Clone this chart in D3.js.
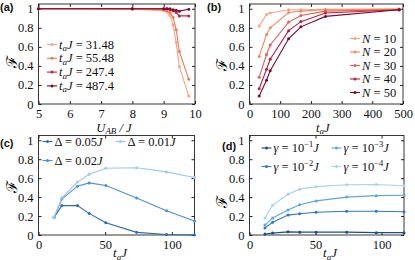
<!DOCTYPE html>
<html>
<head>
<meta charset="utf-8">
<script src="https://cdn.jsdelivr.net/npm/d3@7"></script>
<style>
body { margin: 0; background: #fff; }
svg { display: block; }
.tick text { font-family: "Liberation Serif", serif; font-size: 12.5px; fill: #111; }
.tick line { stroke: #222; }
.lab { font-family: "Liberation Serif", serif; font-style: italic; fill: #111; }
.leg { font-family: "Liberation Serif", serif; font-size: 12.5px; fill: #111; }
.plabel { font-family: "Liberation Sans", Arial, sans-serif; font-weight: bold; font-size: 11px; fill: #111; }
</style>
</head>
<body>
<svg width="415" height="260"></svg>
<script>
// ---- data ----
// (a) fidelity vs U_AB/J
var uAB = [5, 8, 9, 9.1, 9.2, 9.3, 9.4, 9.5, 9.8];
var taLabels = ["31.48", "55.48", "247.4", "487.4"];
var fA = [
	[1, 0.995, 0.98, 0.965, 0.93, 0.83, 0.645, 0.39, 0.085],
	[1, 1, 0.99, 0.98, 0.96, 0.91, 0.78, 0.55, 0.26],
	[1, 1, 1, 1, 0.99, 0.98, 0.96, 0.925, 0.925],
	[1, 1, 1, 1, 1, 0.99, 0.985, 0.975, 0.995]
];
var colA = ["#f8a57e", "#ee7b5f", "#c8203f", "#7d0b2e"];

// (b) fidelity vs t_a J for several N
var taB = [31.48, 55.48, 67.4, 127.4, 167.4, 247.4, 487.4];
var nLabels = ["10", "20", "30", "40", "50"];
var fB = [
	[0.82, 0.94, 0.955, 0.99, 0.99, 0.995, 1],
	[0.50, 0.73, 0.80, 0.96, 0.975, 0.99, 0.995],
	[0.28, 0.52, 0.62, 0.86, 0.93, 0.975, 0.99],
	[0.16, 0.365, 0.47, 0.77, 0.865, 0.955, 0.99],
	[0.085, 0.25, 0.35, 0.685, 0.81, 0.92, 0.99]
];
var colB = ["#f8a57e", "#f38a62", "#e0605a", "#bf1f40", "#7d0b2e"];

// (c) fidelity vs t_a J for several Delta
var taC = [11.7, 17.5, 29.2, 38, 50.5, 73.6, 96, 117];
var deltaLabels = ["0.05", "0.02", "0.01"];
var fC = [
	[0.186, 0.31, 0.31, 0.228, 0.13, 0.028, 0.005, 0],
	[0.186, 0.38, 0.515, 0.55, 0.523, 0.39, 0.256, 0.147],
	[0.186, 0.393, 0.558, 0.64, 0.705, 0.71, 0.666, 0.607]
];
var colC = ["#2a6db5", "#4a92d2", "#9ccaec"];

// (d) fidelity vs t_a J for several gamma
var gammaExp = ["-1", "-2", "-3", "-4"];
var fD = [
	[0.01, 0.02, 0.033, 0.03, 0.03, 0.03, 0.025, 0.025],
	[0.075, 0.135, 0.21, 0.225, 0.24, 0.25, 0.25, 0.245],
	[0.105, 0.18, 0.265, 0.32, 0.36, 0.40, 0.415, 0.42],
	[0.18, 0.315, 0.43, 0.484, 0.51, 0.53, 0.533, 0.52]
];
var colD = ["#1c4d8f", "#2f78c2", "#5ea5dc", "#a8d2f0"];

var yTicks = [0, 0.2, 0.4, 0.6, 0.8, 1];

var svg = d3.select("svg");

// Draw one panel with box, inward ticks on all four sides
function panel(o) {
	var g = svg.append("g");
	var x = d3.scaleLinear().domain(o.xdom).range([o.left, o.right]);
	var y = d3.scaleLinear().domain([0, 1.05]).range([o.bottom, o.top]);
	var fmt = (d) => d3.format("~g")(d);

	g.append("g").attr("transform", "translate(0," + o.bottom + ")")
		.call(d3.axisBottom(x).tickValues(o.xticks).tickSize(-3).tickPadding(5).tickFormat(fmt))
		.call((s) => s.select(".domain").remove());
	g.append("g").attr("transform", "translate(0," + o.top + ")")
		.call(d3.axisTop(x).tickValues(o.xticks).tickSize(-3).tickFormat(""))
		.call((s) => s.select(".domain").remove());
	g.append("g").attr("transform", "translate(" + o.left + ",0)")
		.call(d3.axisLeft(y).tickValues(yTicks).tickSize(-3).tickPadding(5).tickFormat(fmt))
		.call((s) => s.select(".domain").remove());
	g.append("g").attr("transform", "translate(" + o.right + ",0)")
		.call(d3.axisRight(y).tickValues(yTicks).tickSize(-3).tickFormat(""))
		.call((s) => s.select(".domain").remove());

	g.append("rect")
		.attr("x", o.left).attr("y", o.top)
		.attr("width", o.right - o.left).attr("height", o.bottom - o.top)
		.attr("fill", "none").attr("stroke", "#222").attr("stroke-width", 0.9);

	var line = d3.line().x((d) => x(d[0])).y((d) => y(d[1]));
	o.series.forEach((vals, i) => {
		var pts = o.xs.map((xv, j) => [xv, vals[j]]);
		g.append("path").datum(pts)
			.attr("d", line)
			.attr("fill", "none")
			.attr("stroke", o.colors[i])
			.attr("stroke-width", 1.1);
		g.selectAll(null).data(pts).enter().append("circle")
			.attr("cx", (d) => x(d[0])).attr("cy", (d) => y(d[1]))
			.attr("r", 1.5).attr("fill", o.colors[i]);
	});

	// y label (script F)
	g.append("text")
		.attr("transform", "translate(" + o.ylab[0] + "," + o.ylab[1] + ") rotate(-90)")
		.attr("text-anchor", "middle")
		.style("font-family", "'DejaVu Serif', serif")
		.style("font-size", "15px")
		.text("\u2131");

	// panel label
	g.append("text").attr("class", "plabel")
		.attr("x", o.plab[0]).attr("y", o.plab[1]).text(o.name);

	return g;
}

function legendItem(g, px, py, color, build) {
	g.append("line").attr("x1", px - 5).attr("x2", px + 5).attr("y1", py).attr("y2", py)
		.attr("stroke", color).attr("stroke-width", 1.1);
	g.append("circle").attr("cx", px).attr("cy", py).attr("r", 1.5).attr("fill", color);
	var t = g.append("text").attr("class", "leg").attr("x", px + 7).attr("y", py + 4);
	build(t);
}

// t_a J label pieces
function taJ(t) {
	t.append("tspan").style("font-style", "italic").text("t");
	t.append("tspan").style("font-style", "italic").style("font-size", "9px").attr("dy", 2.5).text("a");
	t.append("tspan").style("font-style", "italic").attr("dy", -2.5).text("J");
}

// (a)
var ga = panel({
	name: "(a)", xdom: [5, 10], xticks: [5, 6, 7, 8, 9, 10],
	left: 38.5, right: 195, top: 4, bottom: 104,
	xs: uAB, series: fA, colors: colA,
	ylab: [17, 62], plab: [0, 11]
});
taLabels.forEach((v, i) => {
	legendItem(ga, 52, 44.5 + i * 13.8, colA[i], (t) => {
		taJ(t);
		t.append("tspan").text(" = " + v);
	});
});
var xa = ga.append("text").attr("class", "lab").attr("x", 114).attr("y", 131.5)
	.attr("text-anchor", "middle").style("font-size", "12.5px");
xa.append("tspan").text("U");
xa.append("tspan").style("font-size", "9px").attr("dy", 2).text("AB");
xa.append("tspan").attr("dy", -2).text(" / J");

// (b)
var gb = panel({
	name: "(b)", xdom: [0, 500], xticks: [0, 100, 200, 300, 400, 500],
	left: 249.5, right: 403, top: 4, bottom: 104,
	xs: taB, series: fB, colors: colB,
	ylab: [227, 65], plab: [207, 11]
});
nLabels.forEach((v, i) => {
	legendItem(gb, 355, 38.5 + i * 13.5, colB[i], (t) => {
		t.append("tspan").style("font-style", "italic").text("N");
		t.append("tspan").text(" = " + v);
	});
});
var xb = gb.append("text").attr("class", "lab").attr("x", 316).attr("y", 131.5).style("font-size", "12.5px");
taJ(xb);

// (c)
var gc = panel({
	name: "(c)", xdom: [0, 117], xticks: [0, 50, 100],
	left: 38.5, right: 194.5, top: 135.5, bottom: 235,
	xs: taC, series: fC, colors: colC,
	ylab: [17, 187], plab: [0, 147]
});
var legC = [[0, 47.5, 141.5], [1, 47.5, 160.5], [2, 120.5, 141.5]];
legC.forEach(([i, px, py]) => {
	legendItem(gc, px, py, colC[i], (t) => {
		t.append("tspan").text("\u0394 = " + deltaLabels[i]);
		t.append("tspan").style("font-style", "italic").text("J");
	});
});
var xc = gc.append("text").attr("class", "lab").attr("x", 113).attr("y", 257).style("font-size", "13px");
taJ(xc);

// (d)
var gd = panel({
	name: "(d)", xdom: [0, 117], xticks: [0, 50, 100],
	left: 249.5, right: 404, top: 135.5, bottom: 235,
	xs: taC, series: fD, colors: colD,
	ylab: [227, 202], plab: [222, 150]
});
var legD = [[0, 266.5, 148], [1, 266.5, 166.5], [2, 336.5, 148], [3, 336.5, 166.5]];
legD.forEach(([i, px, py]) => {
	legendItem(gd, px, py, colD[i], (t) => {
		t.append("tspan").style("font-style", "italic").text("\u03b3");
		t.append("tspan").text(" = 10");
		t.append("tspan").style("font-size", "8.5px").attr("dy", -5).text(gammaExp[i].replace("-", "\u2212"));
		t.append("tspan").style("font-style", "italic").attr("dy", 5).text("J");
	});
});
var xd = gd.append("text").attr("class", "lab").attr("x", 323).attr("y", 257).style("font-size", "13px");
taJ(xd);
</script>
</body>
</html>
